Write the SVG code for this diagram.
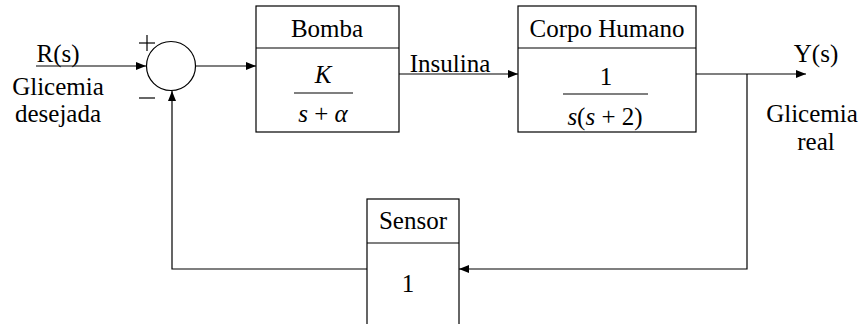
<svg xmlns="http://www.w3.org/2000/svg" width="863" height="324" viewBox="0 0 863 324">
<style>
  .ln { stroke: #000; stroke-width: 1.2; fill: none; }
  .box { stroke: #000; stroke-width: 1.2; fill: #fff; }
  .t { font-family: 'Liberation Serif', 'Times New Roman', serif; font-size: 25px; fill: #000; text-anchor: middle; }
  .it { font-style: italic; }
</style>
<defs>
  <marker id="arr" viewBox="0 0 10 8" refX="10" refY="4" markerWidth="10" markerHeight="8" markerUnits="userSpaceOnUse" orient="auto">
    <path d="M0,0 L10,4 L0,8 Z" fill="#000"/>
  </marker>
</defs>
<rect width="863" height="324" fill="#fff"/>

<g id="connectors">
  <line class="ln" x1="36" y1="66" x2="146" y2="66" marker-end="url(#arr)"/>
  <line class="ln" x1="196" y1="66" x2="256" y2="66" marker-end="url(#arr)"/>
  <line class="ln" x1="399" y1="74" x2="518" y2="74" marker-end="url(#arr)"/>
  <line class="ln" x1="696" y1="74" x2="806" y2="74" marker-end="url(#arr)"/>
  <polyline class="ln" points="747,74 747,269 459,269" marker-end="url(#arr)"/>
  <polyline class="ln" points="367,269 172,269 172,91" marker-end="url(#arr)"/>
</g>

<g id="labels">
  <text class="t" x="58" y="62">R(s)</text>
  <text class="t" x="58" y="95">Glicemia</text>
  <text class="t" x="58" y="122">desejada</text>
  <text class="t" x="450" y="72">Insulina</text>
  <text class="t" x="816" y="62">Y(s)</text>
  <text class="t" x="812" y="122">Glicemia</text>
  <text class="t" x="816" y="150">real</text>
</g>

<g id="sum">
  <circle class="box" cx="171" cy="66" r="24.5"/>
  <line class="ln" x1="139" y1="43" x2="155" y2="43"/>
  <line class="ln" x1="147" y1="35" x2="147" y2="51"/>
  <line class="ln" x1="139" y1="98" x2="155" y2="98"/>
</g>

<g id="bomba">
  <rect class="box" x="256" y="6" width="143" height="126"/>
  <line class="ln" x1="256" y1="48" x2="399" y2="48"/>
  <text class="t" x="327" y="37">Bomba</text>
  <text class="t it" x="323" y="83">K</text>
  <line class="ln" x1="294" y1="93" x2="353" y2="93"/>
  <text class="t" x="323" y="122"><tspan class="it">s</tspan> + <tspan class="it">α</tspan></text>
</g>

<g id="corpo">
  <rect class="box" x="518" y="6" width="178" height="126"/>
  <line class="ln" x1="518" y1="48" x2="696" y2="48"/>
  <text class="t" x="607" y="37">Corpo Humano</text>
  <text class="t" x="606" y="85">1</text>
  <line class="ln" x1="563" y1="94" x2="648" y2="94"/>
  <text class="t" x="605" y="125"><tspan class="it">s</tspan>(<tspan class="it">s</tspan> + 2)</text>
</g>

<g id="sensor">
  <rect class="box" x="367" y="199" width="92" height="140"/>
  <line class="ln" x1="367" y1="243" x2="459" y2="243"/>
  <text class="t" x="413" y="229">Sensor</text>
  <text class="t" x="408" y="292">1</text>
</g>
</svg>
